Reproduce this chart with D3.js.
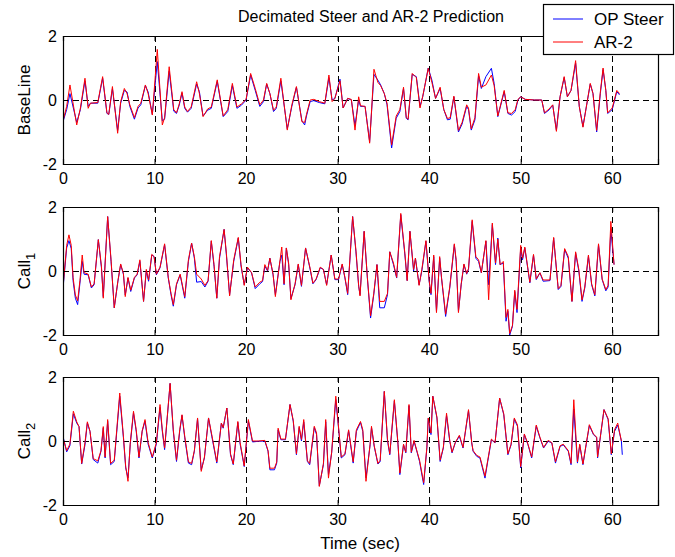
<!DOCTYPE html>
<html><head><meta charset="utf-8">
<script src="https://cdn.jsdelivr.net/npm/d3@7"></script>
<style>body{margin:0;background:#fff}svg{display:block}text{font-family:"Liberation Sans",Arial,sans-serif}</style>
</head><body><svg id="c" width="675" height="557"></svg>
<script>
const xTicks=[0,10,20,30,40,50,60];
const yTicks=[-2,0,2];
const seriesNames=["OP Steer","AR-2"];
const panelLabels=["BaseLine","Call","Call"];
const panelSubs=["","1","2"];

const t1=[0,0.4,0.76,1.5,1.9,2.4,2.75,3.0,3.8,4.33,4.8,5.0,5.4,5.97,6.3,6.7,7.0,7.3,7.8,8.2,8.5,9.0,9.3,9.76,10.3,10.85,11.1,11.6,12.1,12.4,12.7,13.0,13.3,13.6,14.0,14.6,14.9,15.3,15.8,16.2,16.85,17.5,18.0,18.5,19.0,19.5,20.0,20.5,21.0,21.5,21.9,22.25,22.6,23.0,23.3,23.8,24.5,25.0,25.5,26.1,26.4,26.6,27.0,27.4,28.0,28.6,29.05,29.4,29.7,30.26,30.6,31.1,31.5,31.9,32.3,32.5,33.0,33.5,33.97,34.4,34.7,35.1,35.4,35.9,36.4,36.8,37.2,37.5,37.7,38.15,38.6,39.0,39.3,39.9,40.3,40.7,41.2,41.6,42.0,42.3,42.7,43.2,43.6,44.1,44.3,44.6,45.0,45.4,45.7,46.2,46.8,47.1,47.5,48.2,48.6,49.0,49.4,49.7,50.0,50.5,51.5,52.3,52.6,53.1,53.5,53.9,54.3,54.75,55.1,55.5,56.0,56.4,56.8,57.6,57.9,58.3,58.7,59.0,59.3,59.5,60.0,60.5,60.8];
const steer1=[-0.68,-0.3,0.2,-0.7,-0.3,0.6,-0.2,-0.1,-0.1,0.68,-0.42,-0.45,0.35,-0.95,-0.1,0.3,0.25,-0.2,-0.6,-0.25,-0.15,0.45,0.25,-0.45,1.2,-0.65,-0.6,0.9,-0.35,-0.42,-0.16,0.22,-0.26,-0.38,-0.26,0.5,0.26,-0.5,-0.32,-0.26,0.58,-0.52,-0.36,0.45,-0.26,-0.16,0.0,0.78,0.3,-0.2,-0.05,0.5,0.2,-0.36,-0.26,0.6,-0.9,-0.2,0.4,-0.65,-0.78,-0.5,-0.05,-0.02,-0.08,-0.12,0.7,0.0,0.05,0.65,-0.25,0.05,0.0,-0.8,0.0,-0.2,-0.2,-1.3,0.8,0.62,0.47,0.2,-0.15,-1.5,-0.57,-0.36,0.36,-0.57,-0.62,0.8,0.73,-0.2,0.1,1.0,0.62,0.05,0.36,-0.3,-0.62,-0.6,0.1,-1.0,-0.75,-0.2,-0.3,-0.94,-0.62,0.75,0.36,0.73,0.99,0.52,-0.52,0.26,-0.42,-0.47,-0.36,0.0,0.1,0.02,0.0,0.0,-0.42,-0.31,-0.16,-0.94,0.1,0.7,0.1,0.3,1.15,-0.2,-0.83,0.5,0.2,-1.0,0.2,0.95,0.3,-0.42,-0.3,0.26,0.16];
const ar1=[-0.65,-0.2,0.47,-0.78,-0.25,0.68,-0.26,-0.1,-0.08,0.73,-0.4,-0.45,0.42,-1.04,-0.05,0.36,0.2,-0.15,-0.55,-0.2,-0.1,0.47,0.2,-0.47,1.58,-0.78,-0.55,1.04,-0.3,-0.4,-0.12,0.26,-0.22,-0.36,-0.22,0.57,0.2,-0.52,-0.28,-0.22,0.63,-0.5,-0.3,0.52,-0.22,-0.12,0.02,0.83,0.36,-0.15,0.0,0.52,0.2,-0.32,-0.22,0.68,-0.94,-0.15,0.42,-0.68,-0.7,-0.45,0.0,0.02,-0.05,-0.1,0.78,-0.05,0.05,0.6,-0.25,0.05,0.02,-0.94,0.1,-0.18,-0.2,-1.35,0.96,0.55,0.45,0.2,-0.1,-1.4,-0.5,-0.3,0.4,-0.55,-0.6,0.83,0.7,-0.25,0.12,0.99,0.55,0.05,0.4,-0.3,-0.58,-0.55,0.12,-0.95,-0.7,-0.15,-0.25,-0.9,-0.55,0.83,0.4,0.47,0.78,0.45,-0.5,0.3,-0.4,-0.42,-0.3,0.02,0.1,0.02,0.0,0.0,-0.4,-0.28,-0.15,-0.98,0.1,0.73,0.1,0.3,1.23,-0.2,-0.85,0.52,0.2,-0.95,0.25,1.0,0.3,-0.4,-0.25,0.3,0.2];

const t2=[0,0.4,0.65,0.9,1.1,1.35,1.6,1.85,2.1,2.3,2.75,3.1,3.4,3.86,4.2,4.4,4.88,5.25,5.6,6.0,6.3,6.6,6.8,7.1,7.4,7.8,8.1,8.4,8.8,9.1,9.35,9.7,9.95,10.2,10.6,11.1,11.5,11.8,12.05,12.4,12.8,13.3,13.7,14.05,14.35,14.6,15.1,15.5,15.85,16.2,16.5,16.8,17.1,17.6,17.85,18.2,18.65,19.15,19.45,19.8,20.15,20.6,21.0,21.5,21.8,22.05,22.35,22.6,22.95,23.2,23.7,23.9,24.15,24.4,24.65,24.9,25.35,25.7,26.05,26.5,27.0,27.3,27.65,28.1,28.45,28.8,29.3,29.7,30.1,30.5,30.8,31.1,31.64,32.0,32.3,32.45,32.9,33.25,33.6,33.95,34.3,34.6,35.1,35.45,35.7,36.1,36.45,36.9,37.35,37.6,37.9,38.3,38.5,38.9,39.2,39.65,40.0,40.2,40.5,40.8,41.15,41.35,41.8,42.25,42.75,42.95,43.2,43.5,43.8,44.1,44.3,44.7,45.1,45.4,45.7,46.2,46.5,46.9,47.25,47.5,47.75,48.1,48.4,48.6,48.8,49.1,49.35,49.6,50.0,50.2,50.45,51.0,51.4,51.7,52.1,52.45,53.2,53.6,54.1,54.4,54.8,55.2,55.6,56.0,56.35,56.7,57.0,57.4,57.75,58.1,58.5,58.9,59.3,59.55,59.85,60.2];
const steer2=[-0.55,0.72,0.95,0.7,-0.3,-0.85,-1.05,-0.38,0.3,-0.1,-0.12,-0.53,-0.43,0.98,0.1,-0.8,1.7,0.3,-1.15,-0.32,0.2,-0.1,-0.75,-0.22,-0.64,-0.22,-0.12,0.3,-0.95,0.0,-0.32,0.5,0.45,-0.12,0.1,0.82,-0.22,-0.74,-1.1,-0.43,-0.12,-0.85,0.3,0.87,0.4,-0.35,-0.33,-0.5,-0.32,0.93,0.15,-0.85,0.4,1.3,0.5,-0.75,0.3,1.03,0.15,-0.43,0.1,-0.06,-0.55,-0.4,-0.33,0.15,0.0,0.4,-0.12,-0.74,0.3,0.5,-0.43,0.72,0.2,-0.86,-0.43,0.2,-0.48,0.72,0.05,-0.4,-0.27,0.1,0.05,-0.43,0.5,-0.27,-0.27,0.2,-0.22,-0.74,1.7,0.6,-0.48,-0.74,1.24,-0.22,-1.47,-0.74,0.2,-1.15,-1.15,-0.74,0.6,0.2,-0.22,1.76,0.5,-0.3,1.24,0.0,0.4,-0.43,0.0,0.93,-0.32,-0.74,0.45,-1.26,0.4,-0.22,-1.42,-0.53,0.82,0.3,-1.26,-0.43,0.2,-0.1,0.05,1.55,0.4,0.3,-0.06,0.93,-0.43,1.45,0.2,1.03,0.2,0.25,-1.57,-1.26,-2.0,-1.73,-0.64,-1.3,0.72,0.35,0.72,-0.37,0.5,-0.27,-0.06,-0.32,-0.3,1.03,-0.58,-0.48,0.67,0.4,-0.95,0.56,0.0,-0.95,-0.53,0.46,-0.43,-0.78,0.82,-0.27,-0.62,-0.5,1.3,0.2];
const ar2=[-0.5,0.8,1.13,0.8,-0.2,-0.75,-0.93,-0.3,0.5,-0.05,-0.1,-0.5,-0.4,0.98,0.15,-0.85,1.7,0.35,-1.15,-0.3,0.22,-0.08,-0.8,-0.2,-0.6,-0.2,-0.1,0.35,-0.95,0.05,-0.28,0.52,0.45,-0.1,0.12,0.85,-0.2,-0.7,-1.05,-0.4,-0.1,-0.8,0.35,0.87,0.45,-0.1,-0.25,-0.45,-0.3,0.95,0.2,-0.85,0.45,1.3,0.55,-0.78,0.35,1.05,0.2,-0.45,0.12,-0.05,-0.5,-0.35,-0.3,0.2,0.02,0.4,-0.1,-0.8,0.32,0.75,-0.4,0.72,0.25,-0.9,-0.4,0.22,-0.45,0.72,0.08,-0.38,-0.25,0.12,0.05,-0.45,0.5,-0.25,-0.25,0.22,-0.2,-0.7,1.7,0.65,-0.45,-0.78,1.24,-0.2,-1.4,-0.7,0.2,-0.95,-0.95,-0.7,0.6,0.25,-0.2,1.8,0.55,-0.3,1.24,0.05,0.4,-0.45,0.05,0.95,-0.3,-0.7,0.5,-1.3,0.45,-0.2,-1.35,-0.5,0.85,0.35,-1.3,-0.4,0.22,-0.08,0.08,1.6,0.45,0.35,-0.05,0.95,-0.9,1.5,0.25,1.0,0.2,0.3,-1.45,-1.2,-1.95,-1.7,-0.6,-1.2,0.8,0.4,0.75,-0.35,0.52,-0.25,-0.05,-0.28,-0.28,1.05,-0.55,-0.45,0.7,0.45,-0.95,0.6,0.05,-0.9,-0.5,0.5,-0.4,-0.74,0.85,-0.25,-0.58,-0.45,1.55,0.2];

const t3=[0,0.4,0.75,1.13,1.5,1.75,2.04,2.4,2.66,2.95,3.3,3.8,4.15,4.4,4.6,4.88,5.2,5.6,6.2,6.6,6.85,7.1,7.35,7.7,8.0,8.3,8.65,8.96,9.3,9.75,10.2,10.6,10.85,11.1,11.7,12.05,12.4,12.75,13.0,13.3,13.7,14.05,14.35,14.7,15.1,15.45,15.9,16.25,16.8,17.3,17.5,17.9,18.3,18.6,19.1,19.35,19.8,20.25,20.7,21.35,22.05,22.4,22.6,23.1,23.35,23.5,23.8,24.3,24.8,25.15,25.5,25.8,26.05,26.3,26.7,26.95,27.45,27.7,28.0,28.45,28.7,29.0,29.35,29.8,30.05,30.4,30.8,31.2,31.7,32.05,32.5,32.75,33.1,33.55,33.7,34.0,34.4,34.65,35.1,35.45,35.7,36.2,36.6,36.8,37.2,37.45,37.8,38.05,38.35,38.7,38.95,39.4,39.75,39.9,40.2,40.4,40.85,41.2,41.55,41.9,42.25,42.5,42.85,43.3,43.7,44.3,44.65,44.8,45.2,45.55,46.1,46.4,46.8,47.2,47.7,48.15,48.6,48.95,49.3,49.65,50.0,50.4,50.8,51.2,51.7,52.1,52.5,53.0,53.4,53.8,54.3,54.65,55.2,55.5,55.8,56.2,56.45,56.8,57.15,57.5,57.95,58.3,58.4,59.1,59.55,59.9,60.25,60.6,61.0,61.1];
const steer3=[0.15,-0.34,-0.15,0.85,0.56,0.45,-0.72,-0.12,0.56,0.3,-0.58,-0.69,-0.32,0.4,-0.53,0.62,-0.74,-0.64,1.4,0.1,-0.84,-1.15,-0.1,0.88,0.3,-0.53,0.3,0.62,-0.1,-0.53,-0.1,1.05,0.3,-0.27,1.8,0.3,-0.64,0.3,0.8,0.1,-0.69,-0.74,-0.32,0.7,-0.9,-0.53,0.72,0.15,-0.69,0.56,0.4,1.03,-0.43,-0.74,0.58,-0.1,-0.8,0.62,-0.03,-0.01,0.0,-0.32,-0.9,-0.9,-0.69,0.35,0.04,0.04,1.14,0.62,-0.43,0.42,0.0,0.6,-0.64,-0.74,0.42,0.2,-1.4,-0.74,0.6,-1.05,-0.37,1.3,0.56,-0.53,-0.43,0.32,-0.69,0.3,0.58,0.3,-1.15,-0.12,0.42,-0.17,-0.72,-0.64,1.55,0.0,-0.43,1.25,-0.12,-1.05,-0.12,-0.37,1.1,-0.37,-0.01,-0.37,-0.64,-1.36,-0.22,0.7,0.2,1.4,0.72,-0.64,-0.22,0.8,-0.01,-0.37,-0.06,0.15,-0.22,0.95,-0.06,-0.32,-0.48,-0.53,-1.16,-0.64,0.04,-0.06,1.34,0.82,-0.43,-0.12,0.68,0.46,-0.84,0.2,-0.12,-0.53,0.46,0.1,-0.22,-0.01,-0.06,-0.69,-0.17,-0.12,-0.32,-0.74,1.0,-0.69,-0.12,-0.74,-0.12,0.48,0.2,0.1,-0.53,0.98,0.67,-0.43,0.3,0.5,0.0,-0.43];
const ar3=[0.1,-0.3,-0.1,0.93,0.6,0.45,-0.7,-0.05,0.6,0.3,-0.55,-0.62,-0.3,0.45,-0.5,0.67,-0.7,-0.6,1.5,0.15,-0.8,-1.26,-0.05,0.93,0.35,-0.5,0.32,0.67,-0.05,-0.5,-0.05,1.14,0.35,-0.22,1.8,0.35,-0.6,0.35,0.82,0.15,-0.65,-0.7,-0.3,0.72,-0.95,-0.5,0.72,0.2,-0.65,0.56,0.42,1.03,-0.4,-0.72,0.61,-0.05,-0.78,0.67,0.0,0.0,0.02,-0.3,-0.85,-0.85,-0.65,0.4,0.06,0.06,1.14,0.65,-0.4,0.46,0.05,0.67,-0.62,-0.7,0.46,0.25,-1.42,-0.7,0.67,-1.16,-0.35,1.4,0.6,-0.5,-0.4,0.35,-0.65,0.35,0.61,0.35,-1.26,-0.1,0.46,-0.15,-0.7,-0.6,1.55,0.05,-0.4,1.29,-0.1,-1.0,-0.1,-0.35,1.14,-0.35,0.02,-0.35,-0.6,-1.3,-0.2,0.72,0.25,1.4,0.75,-0.6,-0.2,0.87,0.02,-0.35,-0.05,0.18,-0.2,0.98,-0.05,-0.3,-0.45,-0.5,-1.1,-0.6,0.06,-0.05,1.34,0.85,-0.4,-0.1,0.72,0.5,-0.8,0.22,-0.1,-0.5,0.5,0.12,-0.2,0.02,-0.05,-0.65,-0.15,-0.1,-0.3,-0.7,1.29,-0.65,-0.1,-0.72,-0.1,0.51,0.22,0.12,-0.5,0.98,0.7,-0.4,0.35,0.56,0.0,null];

const times=[t1,t2,t3], steers=[steer1,steer2,steer3], ars=[ar1,ar2,ar3];

const svg=d3.select("#c");
const L=63,R=658,H=128,tops=[36,207,377];
const x=d3.scaleLinear().domain([0,65]).range([L,R]);

tops.forEach((top,i)=>{
  const y=d3.scaleLinear().domain([-2,2]).range([top+H,top]);
  const g=svg.append("g");
  g.append("clipPath").attr("id","cp"+i).append("rect").attr("x",L).attr("y",top).attr("width",R-L).attr("height",H);
  g.selectAll(".gx").data(xTicks.filter(d=>d>0)).join("line")
    .attr("x1",d=>Math.round(x(d))+0.5).attr("x2",d=>Math.round(x(d))+0.5).attr("y1",top).attr("y2",top+H)
    .attr("stroke","#000").attr("stroke-width",1).attr("stroke-dasharray","6,4");
  g.append("line").attr("x1",L).attr("x2",R).attr("y1",Math.round(y(0))+0.5).attr("y2",Math.round(y(0))+0.5)
    .attr("stroke","#000").attr("stroke-width",1).attr("stroke-dasharray","6,4");
  const data=times[i].map((t,k)=>({t,s:steers[i][k],a:ars[i][k]}));
  const lb=d3.line().defined(d=>d.s!=null).x(d=>x(d.t)).y(d=>y(d.s));
  const lr=d3.line().defined(d=>d.a!=null).x(d=>x(d.t)).y(d=>y(d.a));
  const pg=g.append("g").attr("clip-path","url(#cp"+i+")");
  pg.append("path").datum(data).attr("d",lb).attr("fill","none").attr("stroke","#0000ff").attr("stroke-width",1);
  pg.append("path").datum(data).attr("d",lr).attr("fill","none").attr("stroke","#ff0000").attr("stroke-width",1);
  const ax=g.append("g").attr("transform",`translate(0,${top+H})`).call(d3.axisBottom(x).tickValues(xTicks).tickSize(-5).tickPadding(6).tickFormat(d3.format("d")));
  const axT=g.append("g").attr("transform",`translate(0,${top})`).call(d3.axisTop(x).tickValues(xTicks).tickSize(-5).tickFormat(""));
  const ay=g.append("g").attr("transform",`translate(${L},0)`).call(d3.axisLeft(y).tickValues(yTicks).tickSize(-5).tickPadding(6).tickFormat(d=>d<0?"-"+Math.abs(d):d));
  const ayR=g.append("g").attr("transform",`translate(${R},0)`).call(d3.axisRight(y).tickValues(yTicks).tickSize(-5).tickFormat(""));
  [ax,axT,ay,ayR].forEach(a=>{a.select(".domain").attr("stroke","#000").attr("stroke-width",1.2);a.selectAll(".tick line").attr("stroke","#000");
    a.selectAll("text").attr("font-size",16).attr("fill","#000").style("font-family","'Liberation Sans',Arial,sans-serif");});
  ax.selectAll("text").attr("dy","0.85em");
  const yl=g.append("text").attr("transform",`translate(30,${top+H/2}) rotate(-90)`).attr("text-anchor","middle").attr("font-size",17).attr("fill","#000").text(panelLabels[i]);
  if(panelSubs[i]) yl.append("tspan").attr("font-size",13).attr("dy",5).text(panelSubs[i]);
});

svg.append("text").attr("x",371).attr("y",22).attr("text-anchor","middle").attr("font-size",16).text("Decimated Steer and AR-2 Prediction");
svg.append("text").attr("x",360).attr("y",549).attr("text-anchor","middle").attr("font-size",17).text("Time (sec)");

const lg=svg.append("g");
lg.append("rect").attr("x",543.5).attr("y",4.5).attr("width",130).attr("height",50).attr("fill","#fff").attr("stroke","#000").attr("stroke-width",1.2);
const colors=["#0000ff","#ff0000"];
seriesNames.forEach((n,k)=>{
  const yy=19+k*23;
  lg.append("line").attr("x1",553).attr("x2",583).attr("y1",yy).attr("y2",yy).attr("stroke",colors[k]).attr("stroke-width",1);
  lg.append("text").attr("x",594).attr("y",yy+6).attr("font-size",17).text(n);
});
</script></body></html>
